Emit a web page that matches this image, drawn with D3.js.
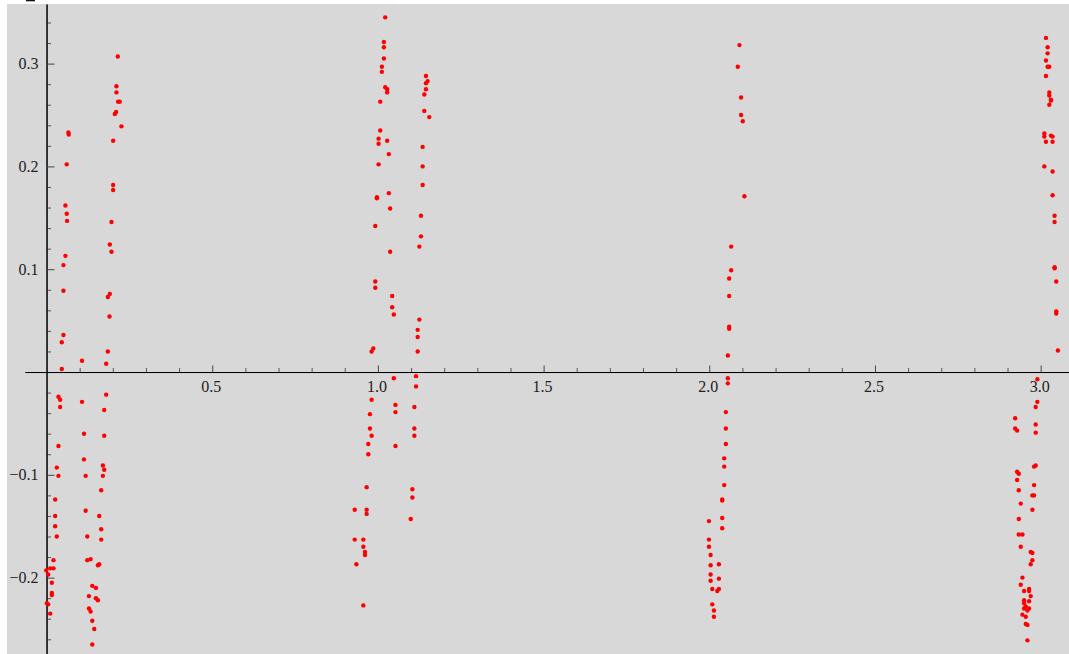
<!DOCTYPE html>
<html>
<head>
<meta charset="utf-8">
<script src="https://cdn.jsdelivr.net/npm/d3@7"></script>
<style>
  body { margin: 0; background: #fff; }
  svg { display: block; }
</style>
</head>
<body>
<svg id="chart" width="1069" height="654"></svg>
<script>
// point groups, [x, y]
const groupA = [
  [0.066, 0.233], [0.067, 0.231], [0.061, 0.202], [0.057, 0.162], [0.061, 0.154],
  [0.062, 0.147], [0.057, 0.113], [0.051, 0.104], [0.051, 0.079], [0.051, 0.036],
  [0.046, 0.029], [0.046, 0.003],
  [0.036, -0.024], [0.041, -0.027], [0.041, -0.034], [0.036, -0.072], [0.031, -0.093],
  [0.036, -0.101], [0.026, -0.124], [0.026, -0.140], [0.026, -0.150], [0.031, -0.160],
  [0.021, -0.183], [0.011, -0.191], [0.021, -0.191], [-0.001, -0.193], [0.005, -0.197],
  [0.016, -0.205], [0.016, -0.215], [0.016, -0.217], [0.001, -0.225], [0.005, -0.226],
  [0.011, -0.235]
]
const groupB = [
  [0.107, 0.011], [0.107, -0.029], [0.113, -0.060], [0.113, -0.085], [0.118, -0.101],
  [0.118, -0.135], [0.123, -0.160], [0.123, -0.183], [0.133, -0.182], [0.138, -0.208],
  [0.149, -0.210], [0.128, -0.218], [0.149, -0.220], [0.155, -0.222], [0.128, -0.230],
  [0.133, -0.233], [0.138, -0.242], [0.144, -0.250], [0.138, -0.265]
]
const groupC = [
  [0.215, 0.307], [0.211, 0.278], [0.211, 0.272], [0.216, 0.263], [0.221, 0.263],
  [0.210, 0.253], [0.206, 0.251], [0.226, 0.239], [0.201, 0.225], [0.201, 0.182],
  [0.201, 0.177], [0.196, 0.146], [0.191, 0.124], [0.196, 0.117], [0.191, 0.076],
  [0.185, 0.073], [0.190, 0.054], [0.185, 0.020], [0.180, 0.008],
  [0.180, -0.022], [0.174, -0.037], [0.174, -0.062], [0.170, -0.091], [0.174, -0.095],
  [0.170, -0.101], [0.165, -0.115], [0.159, -0.140], [0.165, -0.153], [0.165, -0.163],
  [0.159, -0.187], [0.155, -0.188]
]
const groupD = [
  [1.022, 0.345], [1.018, 0.321], [1.018, 0.316], [1.018, 0.305], [1.012, 0.297],
  [1.012, 0.292], [1.022, 0.277], [1.028, 0.275], [1.028, 0.272], [1.007, 0.263],
  [1.007, 0.235], [1.002, 0.227], [1.002, 0.222], [1.028, 0.225], [1.033, 0.212],
  [1.002, 0.202], [1.033, 0.174], [0.997, 0.170], [0.997, 0.169], [1.037, 0.159],
  [0.992, 0.142], [1.037, 0.117], [0.992, 0.088], [0.992, 0.082], [1.043, 0.074],
  [1.043, 0.063], [1.048, 0.056], [0.986, 0.023], [0.981, 0.020],
  [1.048, -0.006], [0.981, -0.027], [1.053, -0.032], [1.053, -0.039], [0.976, -0.041],
  [0.976, -0.055], [0.981, -0.062], [0.971, -0.070], [0.971, -0.080], [1.053, -0.072],
  [0.966, -0.112], [0.930, -0.134], [0.966, -0.134], [0.966, -0.138], [0.930, -0.163],
  [0.956, -0.163], [0.956, -0.170], [0.961, -0.175], [0.961, -0.178], [0.935, -0.187],
  [0.956, -0.227]
]
const groupE = [
  [1.145, 0.288], [1.150, 0.283], [1.145, 0.281], [1.145, 0.275], [1.140, 0.270],
  [1.140, 0.254], [1.155, 0.248], [1.135, 0.219], [1.135, 0.200], [1.135, 0.182],
  [1.130, 0.152], [1.130, 0.132], [1.125, 0.122], [1.125, 0.051], [1.120, 0.041],
  [1.120, 0.034], [1.120, 0.020],
  [1.115, -0.004], [1.115, -0.014], [1.110, -0.034], [1.110, -0.055], [1.110, -0.062],
  [1.104, -0.114], [1.104, -0.122], [1.099, -0.143]
]
const groupF = [
  [2.091, 0.318], [2.086, 0.297], [2.096, 0.267], [2.096, 0.250], [2.101, 0.244],
  [2.106, 0.171], [2.066, 0.122], [2.066, 0.099], [2.060, 0.091], [2.060, 0.074],
  [2.060, 0.044], [2.060, 0.042], [2.056, 0.016],
  [2.056, -0.006], [2.056, -0.011], [2.050, -0.039], [2.050, -0.055], [2.050, -0.070],
  [2.045, -0.084], [2.045, -0.092], [2.045, -0.110], [2.039, -0.124], [2.039, -0.125],
  [2.039, -0.142], [2.039, -0.152], [1.999, -0.145], [1.999, -0.163], [1.999, -0.170],
  [2.004, -0.178], [2.004, -0.188], [2.029, -0.187], [2.004, -0.197], [2.004, -0.203],
  [2.029, -0.201], [2.009, -0.211], [2.024, -0.213], [2.029, -0.211], [2.009, -0.226],
  [2.014, -0.232], [2.014, -0.238]
]
const groupG = [
  [3.016, 0.325], [3.021, 0.316], [3.021, 0.310], [3.016, 0.303], [3.021, 0.297],
  [3.026, 0.297], [3.016, 0.288], [3.026, 0.272], [3.026, 0.269], [3.031, 0.265],
  [3.031, 0.264], [3.026, 0.260], [3.011, 0.232], [3.011, 0.229], [3.031, 0.230],
  [3.036, 0.229], [3.016, 0.224], [3.036, 0.224], [3.011, 0.200], [3.036, 0.195],
  [3.036, 0.172], [3.042, 0.152], [3.042, 0.146], [3.042, 0.102], [3.042, 0.101],
  [3.047, 0.088], [3.047, 0.059], [3.047, 0.057], [3.052, 0.021],
  [2.990, -0.007], [2.990, -0.029], [2.985, -0.034], [2.923, -0.045], [2.923, -0.055],
  [2.929, -0.057], [2.985, -0.051], [2.985, -0.059], [2.985, -0.091], [2.980, -0.092],
  [2.929, -0.097], [2.934, -0.099], [2.929, -0.105], [2.934, -0.115], [2.980, -0.110],
  [2.975, -0.120], [2.980, -0.120], [2.975, -0.134], [2.940, -0.128], [2.934, -0.143],
  [2.934, -0.158], [2.945, -0.158], [2.940, -0.170], [2.970, -0.175], [2.975, -0.176],
  [2.975, -0.183], [2.970, -0.187], [2.945, -0.200], [2.940, -0.207], [2.965, -0.211],
  [2.965, -0.213], [2.950, -0.213], [2.970, -0.218], [2.950, -0.222], [2.965, -0.223],
  [2.950, -0.225], [2.955, -0.228], [2.965, -0.230], [2.950, -0.230], [2.960, -0.232],
  [2.945, -0.236], [2.955, -0.238], [2.955, -0.245], [2.960, -0.246], [2.960, -0.261]
]

const xMajorTicks = [0.5, 1.0, 1.5, 2.0, 2.5, 3.0]
const yMajorTicks = [-0.2, -0.1, 0.1, 0.2, 0.3]

const groups = [groupA, groupB, groupC, groupD, groupE, groupF, groupG]

const width = 1069, height = 654
const labelFont = '"Liberation Serif", "DejaVu Serif", serif'
const svg = d3.select('#chart')

// plot area
const x = d3.scaleLinear().domain([-0.065, 3.0855]).range([25, width])
const y = d3.scaleLinear().domain([-0.2743, 0.358]).range([height, 4])

svg.append('rect')
  .attr('x', 7).attr('y', 4)
  .attr('width', width - 7).attr('height', height - 4)
  .attr('fill', '#d8d8d8')

// cut-off text fragment at the very top edge
svg.append('rect').attr('x', 26).attr('y', 0).attr('width', 9).attr('height', 1.3).attr('fill', '#111')

// minor tick values (skip the labelled ones)
const isMajor = (v, step) => Math.abs(v / step - Math.round(v / step)) < 1e-6
const xMinor = d3.range(1, 31).map(i => i / 10).filter(v => !isMajor(v, 0.5))
const yMinor = d3.range(-13, 18).map(i => i / 50).filter(v => v !== 0 && !isMajor(v, 0.1))

const fmt = d3.format('.1f')

const styleLabels = g => g
  .attr('font-family', labelFont)
  .attr('font-size', 16)
  .call(g => g.selectAll('.tick text').attr('fill', '#222'))

// x axis, ticks pointing up into the plot
svg.append('g')
  .attr('transform', `translate(0,${y(0)})`)
  .call(d3.axisBottom(x).tickValues(xMinor).tickSize(-4).tickSizeOuter(0).tickFormat(''))
  .call(g => g.selectAll('.tick line').attr('stroke', '#555'))

svg.append('g')
  .attr('transform', `translate(0,${y(0)})`)
  .call(d3.axisBottom(x).tickValues(xMajorTicks).tickSize(-6.5).tickSizeOuter(0).tickPadding(9).tickFormat(fmt))
  .call(styleLabels)
  .call(g => g.select('.domain').attr('stroke', '#000'))
  .call(g => g.selectAll('.tick line').attr('stroke', '#444'))
  .call(g => g.selectAll('.tick text').attr('dx', -1.5))

// y axis, ticks pointing right into the plot
svg.append('g')
  .attr('transform', `translate(${x(0)},0)`)
  .call(d3.axisLeft(y).tickValues(yMinor).tickSize(-4.5).tickSizeOuter(0).tickFormat(''))
  .call(g => g.selectAll('.tick line').attr('stroke', '#555'))

svg.append('g')
  .attr('transform', `translate(${x(0)},0)`)
  .call(d3.axisLeft(y).tickValues(yMajorTicks).tickSize(-8).tickSizeOuter(0).tickPadding(8).tickFormat(fmt))
  .call(styleLabels)
  .call(g => g.select('.domain').attr('stroke', '#000'))
  .call(g => g.selectAll('.tick line').attr('stroke', '#444'))

// points
svg.append('g')
  .selectAll('g')
  .data(groups)
  .join('g')
  .selectAll('circle')
  .data(d => d)
  .join('circle')
  .attr('cx', d => x(d[0]))
  .attr('cy', d => y(d[1]))
  .attr('r', 2.2)
  .attr('fill', '#ff0000')
</script>
</body>
</html>
